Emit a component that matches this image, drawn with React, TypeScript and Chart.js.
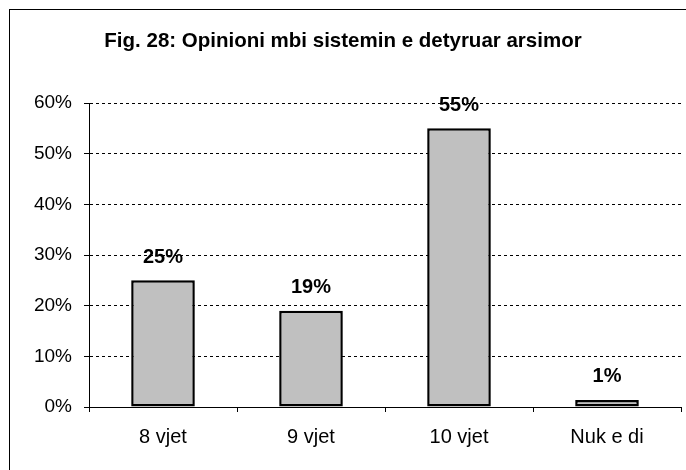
import React, { useEffect, useRef } from "react";
import { Chart, registerables } from "chart.js";

Chart.register(...registerables);

const categories = ["8 vjet", "9 vjet", "10 vjet", "Nuk e di"];
const values = [25, 19, 55, 1.4];
const valueLabels = ["25%", "19%", "55%", "1%"];
const yTicks = [0, 10, 20, 30, 40, 50, 60];
const titleText = "Fig. 28: Opinioni mbi sistemin e detyruar arsimor";

const FONT = "'Liberation Sans', Arial, sans-serif";

const framePlugin = {
  id: "frame",
  beforeDraw(chart: any) {
    const ctx = chart.ctx;
    ctx.save();
    ctx.fillStyle = "#ffffff";
    ctx.fillRect(0, 0, chart.width, chart.height);
    ctx.strokeStyle = "#000000";
    ctx.lineWidth = 1;
    ctx.strokeRect(9.5, 9.5, 800, 600);
    ctx.fillStyle = "#000000";
    ctx.font = `bold 20.5px ${FONT}`;
    ctx.textAlign = "center";
    ctx.textBaseline = "middle";
    ctx.fillText(titleText, 343, 41);
    ctx.restore();
  },
};

const labelPlugin = {
  id: "barLabels",
  afterDatasetsDraw(chart: any) {
    const ctx = chart.ctx;
    const meta = chart.getDatasetMeta(0);
    ctx.save();
    ctx.fillStyle = "#000000";
    ctx.font = `bold 20px ${FONT}`;
    ctx.textAlign = "center";
    ctx.textBaseline = "middle";
    meta.data.forEach((el: any, i: number) => {
      ctx.fillText(valueLabels[i], el.x, el.y - 23);
    });
    ctx.restore();
  },
};

export default function App() {
  const ref = useRef<HTMLCanvasElement | null>(null);
  useEffect(() => {
    if (!ref.current) return;
    const chart = new Chart(ref.current, {
      type: "bar",
      data: {
        labels: categories,
        datasets: [
          {
            data: values,
            backgroundColor: "#c0c0c0",
            borderColor: "#000000",
            borderWidth: 2.5,
            borderSkipped: false,
            categoryPercentage: 1,
            barPercentage: 0.43,
          },
        ],
      },
      options: {
        responsive: false,
        animation: false,
        devicePixelRatio: 1,
        layout: { padding: { top: 103, right: 5, bottom: 0, left: 0 } },
        plugins: {
          legend: { display: false },
          title: { display: false },
          tooltip: { enabled: false },
        },
        scales: {
          x: {
            grid: {
              display: true,
              drawOnChartArea: false,
              drawTicks: true,
              tickLength: 5,
              tickColor: "#000000",
              offset: true,
            },
            border: { display: true, color: "#000000", width: 1 },
            ticks: {
              color: "#000000",
              font: { family: FONT, size: 20 },
              padding: 13,
            },
            afterFit(scale: any) {
              scale.height = 63;
            },
          },
          y: {
            min: 0,
            max: 60,
            afterBuildTicks(scale: any) {
              scale.ticks = yTicks.map((v) => ({ value: v }));
            },
            grid: {
              display: true,
              drawOnChartArea: true,
              drawTicks: true,
              tickLength: 5,
              color: "#000000",
              tickColor: "#000000",
              tickBorderDash: [],
              lineWidth: 1,
            },
            border: { display: true, color: "#000000", width: 1, dash: [3, 3] },
            ticks: {
              color: "#000000",
              font: { family: FONT, size: 19 },
              padding: 12,
              callback: (v: any) => `${v}%`,
            },
            afterFit(scale: any) {
              scale.width = 89;
            },
          },
        },
      },
      plugins: [framePlugin, labelPlugin],
    });
    return () => chart.destroy();
  }, []);
  return (
    <div style={{ position: "absolute", left: 0, top: 0, width: 686, height: 470 }}>
      <canvas ref={ref} width={686} height={470} style={{ width: 686, height: 470 }} />
    </div>
  );
}
